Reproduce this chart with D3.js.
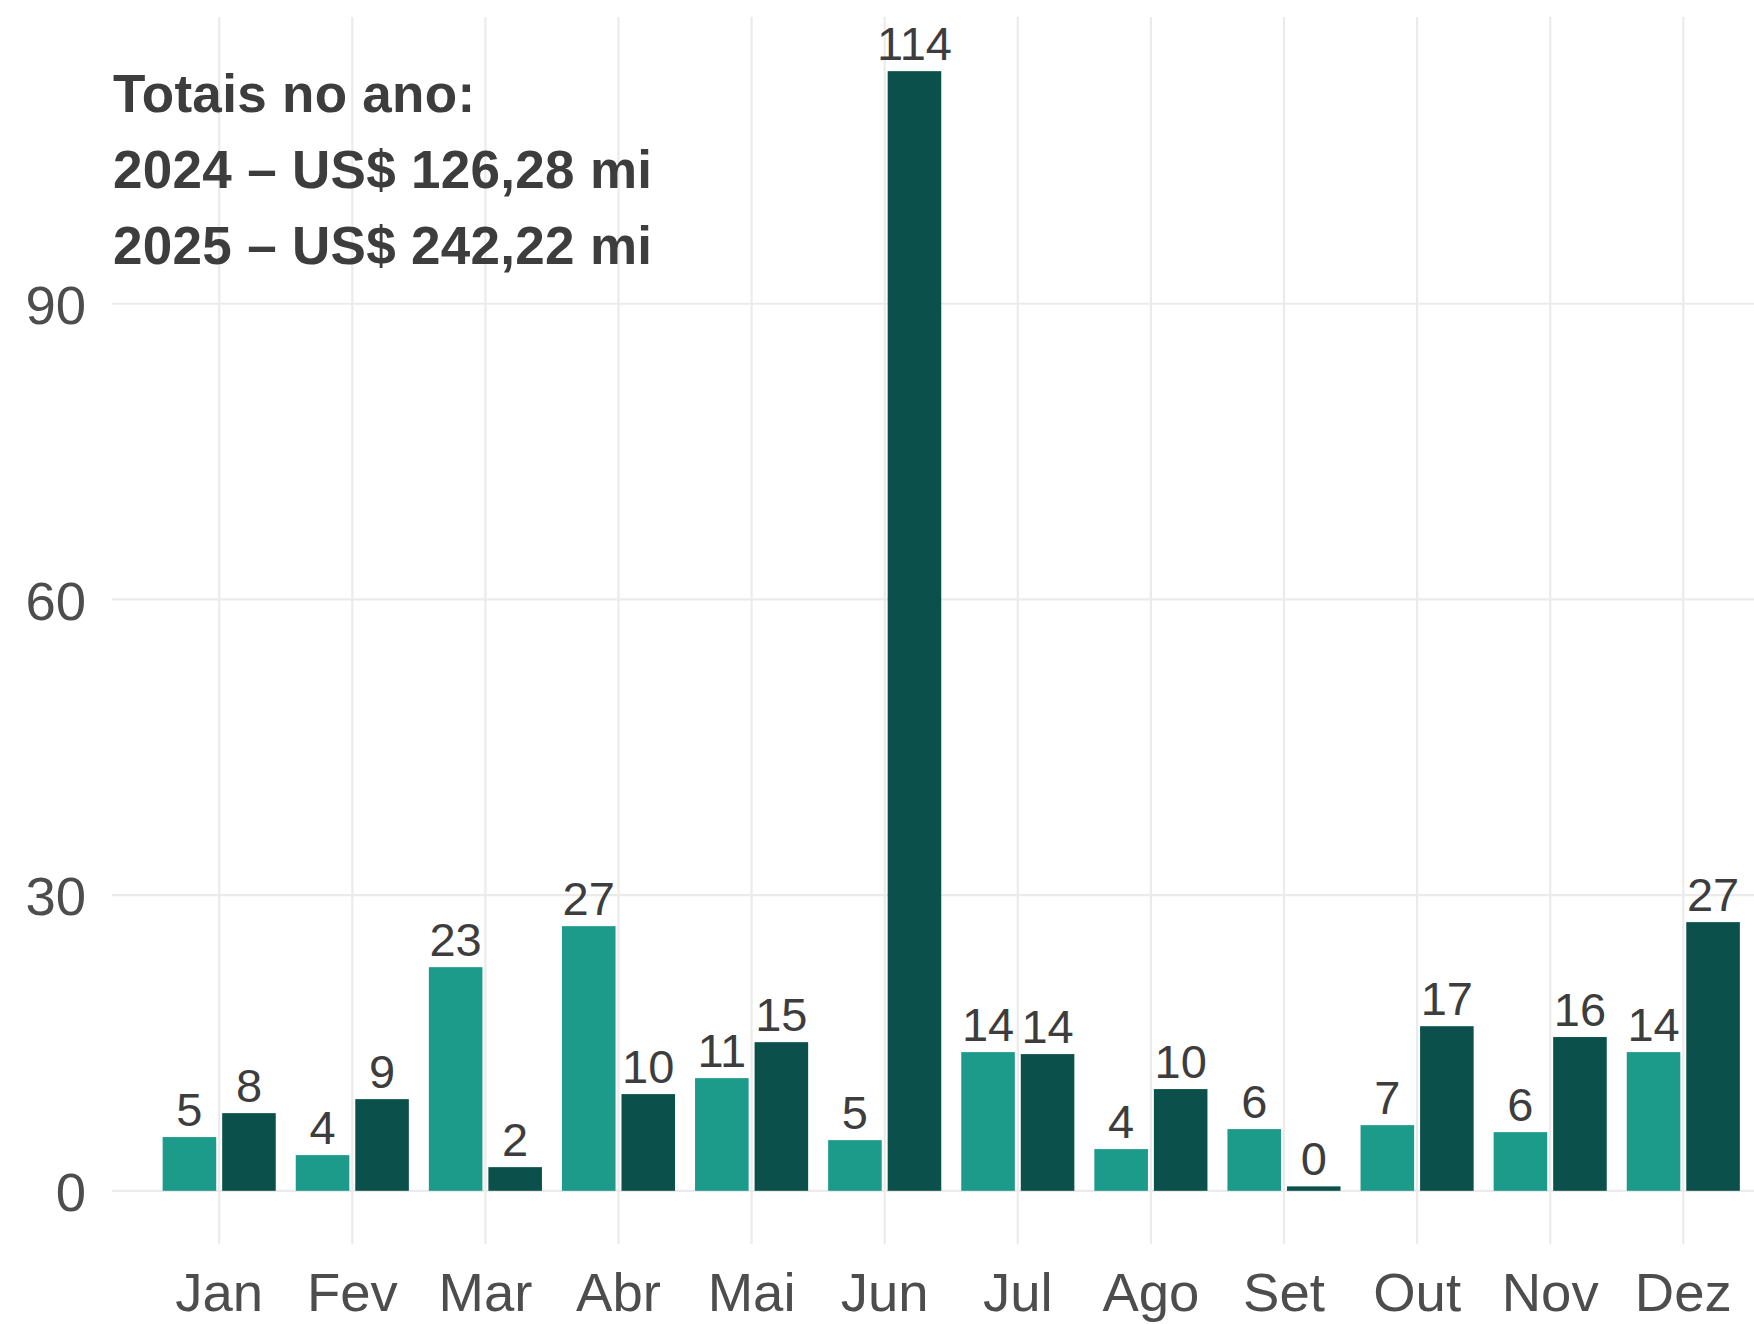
<!DOCTYPE html>
<html>
<head>
<meta charset="utf-8">
<script src="https://cdn.jsdelivr.net/npm/d3@7"></script>
<style>
    body { margin: 0; background: #fff; }
    text { font-family: "Liberation Sans", Arial, sans-serif; }
</style>
</head>
<body>
<div id="chart"></div>
<script>
// data
const months = ['Jan', 'Fev', 'Mar', 'Abr', 'Mai', 'Jun', 'Jul', 'Ago', 'Set', 'Out', 'Nov', 'Dez'];
const years = ['2024', '2025'];
const values2024 = [5.45, 3.62, 22.69, 26.85, 11.43, 5.14, 14.07, 4.23, 6.26, 6.66, 5.95, 14.07];
const values2025 = [7.88, 9.30, 2.40, 9.81, 15.08, 113.6, 13.87, 10.32, 0.45, 16.70, 15.60, 27.26];
const yTicks = [0, 30, 60, 90];
const totalsText = ['Totais no ano:', '2024 – US$ 126,28 mi', '2025 – US$ 242,22 mi'];

const colors = { '2024': '#1c9a8a', '2025': '#0b504a' };

const dimensions = { width: 1754, height: 1324 };

const data = [];
months.forEach((m, i) => {
    data.push({ month: m, year: '2024', value: values2024[i] });
    data.push({ month: m, year: '2025', value: values2025[i] });
});

const svg = d3.select('#chart')
    .append('svg')
    .attr('width', dimensions.width)
    .attr('height', dimensions.height);

// scales
const step = 133.1;
const x = d3.scaleBand()
    .domain(months)
    .range([219.2 - step / 2, 219.2 - step / 2 + step * months.length])
    .padding(0);

const xInner = d3.scaleBand()
    .domain(years)
    .range([10, step - 10])
    .paddingInner(0.1);

const y = d3.scaleLinear()
    .domain([0, 120])
    .range([1190.8, 1190.8 - 120 * 9.856]);

const grid = svg.append('g').attr('class', 'grid');

// vertical gridlines
grid.selectAll('line.v')
    .data(months)
    .enter()
    .append('line')
        .attr('class', 'v')
        .attr('x1', d => x(d) + x.bandwidth() / 2)
        .attr('x2', d => x(d) + x.bandwidth() / 2)
        .attr('y1', 17)
        .attr('y2', 1244)
        .attr('stroke', '#ebebeb')
        .attr('stroke-width', 2.2);

// horizontal gridlines
grid.selectAll('line.h')
    .data(yTicks)
    .enter()
    .append('line')
        .attr('class', 'h')
        .attr('x1', 112)
        .attr('x2', dimensions.width)
        .attr('y1', d => y(d))
        .attr('y2', d => y(d))
        .attr('stroke', '#ebebeb')
        .attr('stroke-width', 2.2);

// axes
const yAxis = d3.axisLeft(y).tickValues(yTicks).tickSize(0).tickPadding(0);
const yAxisGroup = svg.append('g')
    .attr('transform', 'translate(86, 0)')
    .call(yAxis);

const xAxis = d3.axisBottom(x).tickSize(0).tickPadding(0);
const xAxisGroup = svg.append('g')
    .attr('transform', 'translate(0, 1311)')
    .call(xAxis);

[xAxisGroup, yAxisGroup].forEach(g => {
    g.select('.domain').remove();
    g.selectAll('text')
        .attr('fill', '#4d4d4d')
        .style('font-size', '54.5px')
        .style('font-family', '"Liberation Sans", Arial, sans-serif');
});
xAxisGroup.selectAll('text').attr('dy', 0);
yAxisGroup.selectAll('text').attr('dy', '0.36em');

// bars
const bars = svg.append('g').attr('class', 'bars');

bars.selectAll('rect')
    .data(data)
    .enter()
    .append('rect')
        .attr('x', d => x(d.month) + xInner(d.year))
        .attr('width', xInner.bandwidth())
        .attr('y', d => y(d.value))
        .attr('height', d => y(0) - y(d.value))
        .attr('fill', d => colors[d.year]);

// value labels
bars.selectAll('text')
    .data(data)
    .enter()
    .append('text')
        .attr('x', d => x(d.month) + xInner(d.year) + xInner.bandwidth() / 2)
        .attr('y', d => y(d.value) - 11)
        .attr('text-anchor', 'middle')
        .attr('fill', '#3d3d3d')
        .style('font-size', '47px')
        .text(d => Math.round(d.value));

// totals annotation
svg.append('g')
    .selectAll('text')
    .data(totalsText)
    .enter()
    .append('text')
        .attr('x', 113)
        .attr('y', (d, i) => 112 + i * 76)
        .attr('fill', '#3d3d3d')
        .style('font-size', '53px')
        .style('letter-spacing', '0.3px')
        .style('font-weight', 'bold')
        .text(d => d);
</script>
</body>
</html>
